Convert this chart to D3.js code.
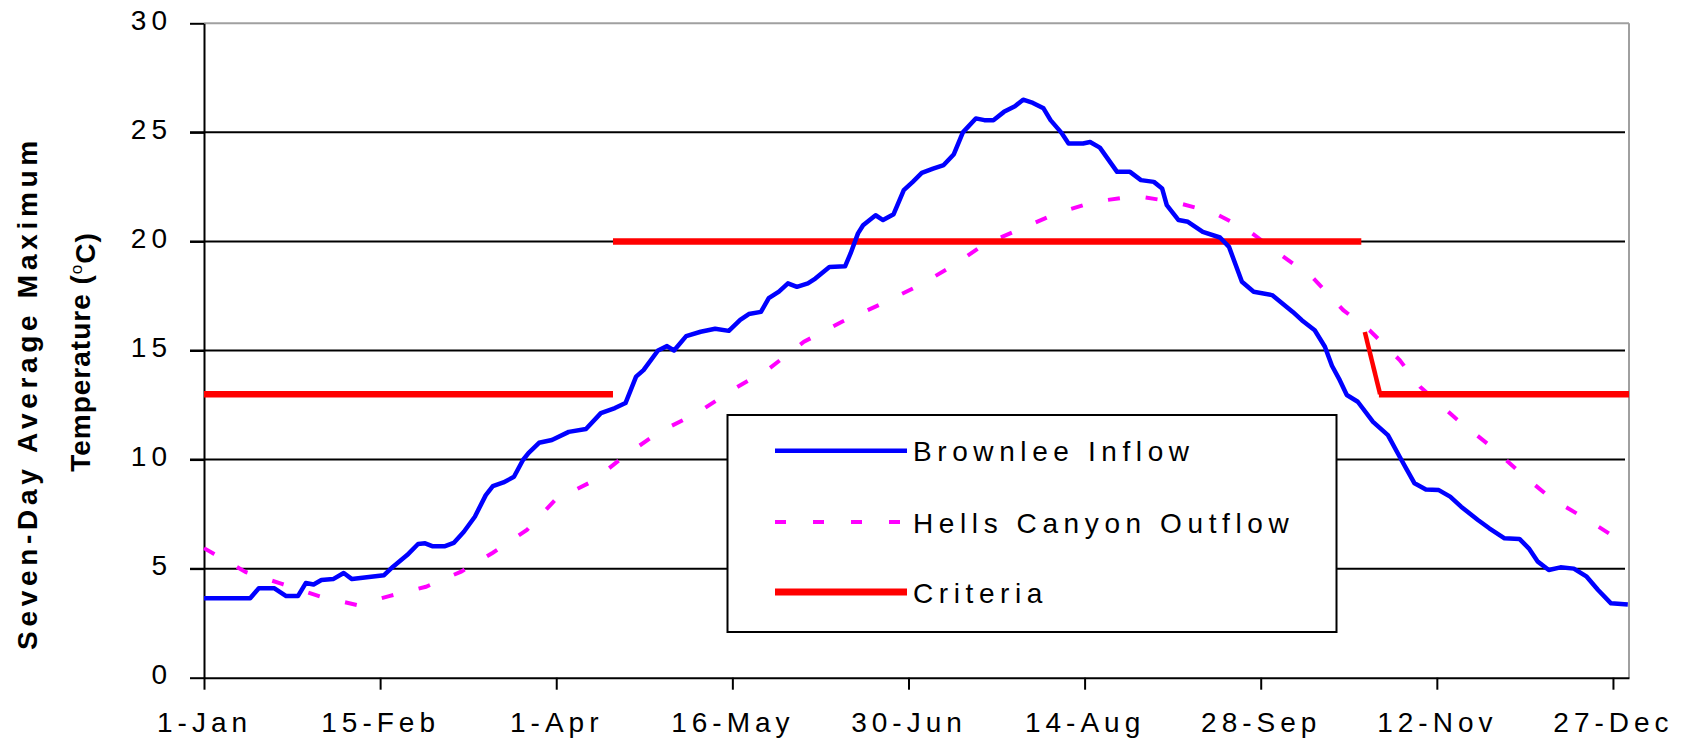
<!DOCTYPE html>
<html>
<head>
<meta charset="utf-8">
<script src="https://cdn.jsdelivr.net/npm/d3@7"></script>
<style>
  body { margin: 0; background: #fff; }
  text { font-family: "Liberation Sans", Arial, sans-serif; }
</style>
</head>
<body>
<div id="chart"></div>
<script>
// x ticks (day of year)
const tickDays = [1, 46, 91, 136, 181, 226, 271, 316, 361];
const tickLabels = ['1-Jan', '15-Feb', '1-Apr', '16-May', '30-Jun', '14-Aug', '28-Sep', '12-Nov', '27-Dec'];
const yTicks = [0, 5, 10, 15, 20, 25, 30];

// Brownlee Inflow
const inflowDays = [1, 12.8, 15, 19, 22, 25, 27, 29, 31, 34, 36.7, 38.8, 43.7, 47, 49.3, 52.9, 55.7, 57.5, 59.3, 62.6,
  64.8, 67.4, 70.2, 73, 74.8, 77.5, 80.2, 82.5, 83.9, 86.6, 89.9, 94.2, 98.6, 102.4, 106, 108.7, 111.4, 113.3, 117, 119.3,
  121.1, 124.2, 127.9, 131.6, 135.1, 138, 140.2, 143.3, 145.3, 147.9, 150.2, 152.5, 155.3, 157.2, 160.8, 164.8, 166.2, 168.1, 169.4, 172.6,
  174.5, 177.2, 179.8, 182.1, 184.4, 187.3, 190, 192.6, 194.9, 198.2, 200.4, 202.7, 205.4, 208.2, 210.3, 212.8, 215.5, 217.3, 220, 221.9,
  225.6, 227.4, 229.9, 234.3, 237.6, 240.4, 243.7, 245.8, 247, 250, 252.4, 256.2, 260.6, 262.9, 266.2, 269.2, 273.9, 279.2, 281.5, 284.8,
  287.4, 289.2, 291.2, 293, 295.8, 299.7, 303.5, 306.5, 308.4, 310.3, 313.2, 316.5, 319.4, 322.2, 326.5, 329.4, 333.3, 337.1, 339.5, 341.8,
  344.6, 347.6, 351, 354.3, 357.2, 360.5, 364.8];
const inflowTemps = [3.64, 3.64, 4.1, 4.1, 3.74, 3.74, 4.34, 4.27, 4.48, 4.52, 4.8, 4.52, 4.63, 4.7, 5.09, 5.62, 6.13, 6.16, 6.03, 6.03,
  6.18, 6.69, 7.38, 8.37, 8.78, 8.95, 9.21, 9.98, 10.3, 10.77, 10.9, 11.27, 11.4, 12.13, 12.36, 12.59, 13.8, 14.1, 15.0, 15.2,
  15.0, 15.66, 15.86, 16.0, 15.9, 16.4, 16.67, 16.77, 17.4, 17.7, 18.08, 17.92, 18.08, 18.3, 18.83, 18.86, 19.45, 20.37, 20.74, 21.2,
  20.98, 21.25, 22.35, 22.73, 23.14, 23.34, 23.5, 24.0, 25.0, 25.64, 25.56, 25.56, 25.94, 26.2, 26.5, 26.35, 26.1, 25.56, 25.0, 24.49,
  24.49, 24.56, 24.3, 23.19, 23.19, 22.81, 22.73, 22.43, 21.66, 20.98, 20.9, 20.44, 20.18, 19.75, 18.15, 17.69, 17.54, 16.77, 16.39, 15.93,
  15.17, 14.3, 13.64, 12.96, 12.65, 11.73, 11.12, 10.13, 9.52, 8.91, 8.63, 8.6, 8.3, 7.84, 7.23, 6.85, 6.39, 6.36, 5.93, 5.32,
  4.94, 5.06, 5.0, 4.63, 4.02, 3.41, 3.36];

// Hells Canyon Outflow
const outflowDays = [1, 3.6, 11.7, 20.9, 30.9, 40.1, 48.3, 57.7, 66.7, 74.8, 83.5, 90.7, 100.5, 108.7, 117.4, 126.9, 136.6, 145.6, 154.3, 164,
  174.5, 183.9, 192.6, 200, 210, 218.7, 228.6, 239, 248.6, 258.5, 267.7, 276.3, 284.5, 292.1, 298.8, 306.5, 311.7, 320.8, 329.4, 338,
  345.2, 354.3, 363.4, 364.8];
const outflowTemps = [5.94, 5.67, 4.84, 4.3, 3.71, 3.33, 3.74, 4.17, 4.86, 5.73, 6.77, 8.14, 9.03, 10.2, 11.27, 12.12, 13.26, 14.2, 15.4, 16.32,
  17.17, 18.0, 18.91, 19.83, 20.6, 21.28, 21.82, 22.08, 21.82, 21.36, 20.52, 19.37, 18.3, 16.85, 15.93, 14.56, 13.34, 11.89, 10.66, 9.29,
  8.22, 7.26, 6.23, 6.1];

// Criteria, one array per drawn piece
const criteriaWinter = [[1, 13], [105.5, 13]];
const criteriaSummer = [[105.5, 20], [296.7, 20]];
const criteriaDrop = [[297.6, 15.85], [301.5, 13]];
const criteriaLate = [[301.2, 13], [365.1, 13]];

const W = 1687, H = 739;
const svg = d3.select('#chart').append('svg').attr('width', W).attr('height', H);
svg.append('rect').attr('width', W).attr('height', H).attr('fill', '#fff');

const x = d3.scaleLinear().domain([1, 365.1]).range([204, 1629]);
const y = d3.scaleLinear().domain([0, 30]).range([677.7, 23.3]);

// grid
svg.append('g').selectAll('line').data(yTicks.filter(v => v > 0 && v < 30)).join('line')
  .attr('x1', 190).attr('x2', 1625).attr('y1', d => y(d)).attr('y2', d => y(d))
  .attr('stroke', '#000').attr('stroke-width', 2);
svg.append('line').attr('x1', x(1)).attr('x2', x(365.1)).attr('y1', y(30)).attr('y2', y(30))
  .attr('stroke', '#a0a0a0').attr('stroke-width', 2);
svg.append('line').attr('x1', x(365.1)).attr('x2', x(365.1)).attr('y1', y(30)).attr('y2', y(0))
  .attr('stroke', '#a0a0a0').attr('stroke-width', 2);

// axes
const yAxis = svg.append('g').attr('transform', 'translate(204,0)')
  .call(d3.axisLeft(y).tickValues(yTicks).tickSize(14).tickSizeOuter(0).tickPadding(18));
const xAxis = svg.append('g').attr('transform', 'translate(0,677.7)')
  .call(d3.axisBottom(x).tickValues(tickDays).tickFormat((d, i) => tickLabels[i]).tickSize(12).tickSizeOuter(0).tickPadding(22));
[yAxis, xAxis].forEach(g => {
  g.select('.domain').attr('stroke', '#000').attr('stroke-width', 2);
  g.selectAll('.tick line').attr('stroke', '#000').attr('stroke-width', 2);
  g.selectAll('.tick text').attr('fill', '#000').style('font-size', '28px').style('letter-spacing', '5px')
    .style('font-family', '"Liberation Sans", Arial, sans-serif');
});
yAxis.selectAll('.tick text').attr('dy', '0.22em');

// axis title
const titleFont = '"Liberation Sans", Arial, sans-serif';
svg.append('text').attr('transform', 'translate(37,393) rotate(-90)').attr('text-anchor', 'middle')
  .style('font-family', titleFont).style('font-weight', 'bold').style('font-size', '28px').style('letter-spacing', '4.7px')
  .text('Seven-Day Average Maximum');
const t2 = svg.append('text').attr('transform', 'translate(90,352) rotate(-90)').attr('text-anchor', 'middle')
  .style('font-family', titleFont).style('font-weight', 'bold').style('font-size', '28px').style('letter-spacing', '1px');
t2.append('tspan').text('Temperature (');
t2.append('tspan').attr('dy', '-0.45em').style('font-size', '17px').style('font-weight', 'normal').text('o');
t2.append('tspan').attr('dy', '0.45em').text('C)');

// series
const line = d3.line().x(d => x(d[0])).y(d => y(d[1]));
svg.append('path').datum(d3.zip(outflowDays, outflowTemps)).attr('d', line)
  .attr('fill', 'none').attr('stroke', '#ff00ff').attr('stroke-width', 4).attr('stroke-dasharray', '12,26');
[criteriaWinter, criteriaSummer, criteriaLate].forEach(seg => {
  svg.append('path').datum(seg).attr('d', line)
    .attr('fill', 'none').attr('stroke', '#ff0000').attr('stroke-width', 6.5);
});
svg.append('path').datum(criteriaDrop).attr('d', line)
  .attr('fill', 'none').attr('stroke', '#ff0000').attr('stroke-width', 4.5);
svg.append('path').datum(d3.zip(inflowDays, inflowTemps)).attr('d', line)
  .attr('fill', 'none').attr('stroke', '#0000ff').attr('stroke-width', 4.5).attr('stroke-linejoin', 'round');

// legend
const legendItems = [
  { name: 'Brownlee Inflow', color: '#0000ff', width: 4.5, dash: null, y: 450.7 },
  { name: 'Hells Canyon Outflow', color: '#ff00ff', width: 4, dash: '11,27', y: 522 },
  { name: 'Criteria', color: '#ff0000', width: 7, dash: null, y: 592 }
];
const legend = svg.append('g');
legend.append('rect').attr('x', 727.5).attr('y', 415).attr('width', 609).attr('height', 217)
  .attr('fill', '#fff').attr('stroke', '#000').attr('stroke-width', 2);
legendItems.forEach(it => {
  legend.append('line').attr('x1', 775).attr('x2', 907).attr('y1', it.y).attr('y2', it.y)
    .attr('stroke', it.color).attr('stroke-width', it.width).attr('stroke-dasharray', it.dash);
  legend.append('text').attr('x', 913).attr('y', it.y + 10.5)
    .style('font-size', '28px').style('letter-spacing', '5.6px').attr('fill', '#000').text(it.name);
});
</script>
</body>
</html>
